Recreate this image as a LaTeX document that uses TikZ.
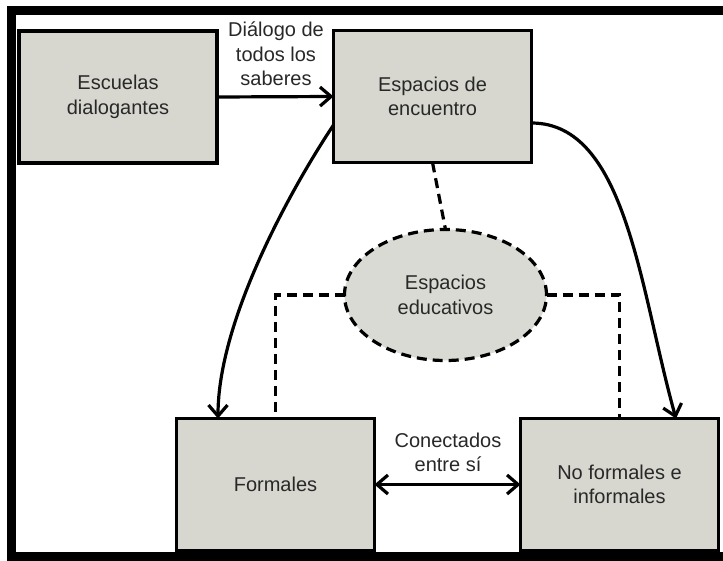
\documentclass[tikz,border=0pt]{standalone}
\usepackage{fontspec}
\setmainfont{Liberation Sans}
\usetikzlibrary{arrows.meta,shapes.geometric}
\definecolor{boxfill}{RGB}{215,215,208}
\definecolor{ellfill}{RGB}{218,218,212}
\definecolor{txt}{RGB}{40,40,40}
\begin{document}
\begin{tikzpicture}[x=1pt,y=-1pt,
  box/.style={draw=black, line width=3.2pt, fill=boxfill, minimum width=198pt, minimum height=132pt,
    inner sep=0pt, outer sep=0pt, align=center, font=\fontsize{20}{24.5}\selectfont, text=txt},
  ellbox/.style={ellipse, draw=black, line width=3.2pt, dash pattern=on 10pt off 6pt, fill=ellfill,
    minimum width=202pt, minimum height=131pt, inner sep=0pt, outer sep=0pt, align=center,
    font=\fontsize{20}{24.5}\selectfont, text=txt},
  lbl/.style={align=center, inner sep=0pt, font=\fontsize{20}{24.5}\selectfont, text=txt},
  arr/.style={line width=3.2pt, -{Straight Barb[length=11pt,width=19pt]}},
  arrb/.style={line width=3.2pt, {Straight Barb[length=11pt,width=19pt]}-{Straight Barb[length=11pt,width=19pt]}},
  dsh/.style={line width=3.2pt, dash pattern=on 10pt off 6pt}
]
\useasboundingbox[fill=white] (0,0) rectangle (723,561);
% frame
\draw[line width=9pt, line join=miter] (723,10.5) -- (11,10.5) -- (11,556.5) -- (723,556.5);
% nodes
\node[box] (esc) at (118,97) {Escuelas\\dialogantes};
\node[box] (enc) at (432.5,96.5) {Espacios de\\encuentro};
\node[box] (form) at (275.5,484.5) {Formales};
\node[box] (nof) at (619.5,484.5) {No formales e\\informales};
\node[ellbox] (ell) at (445.5,295) {Espacios\\educativos};
% labels
\node[lbl, anchor=base] (dlg) at (276,86) {Diálogo de\\todos los\\saberes};
\node[lbl, anchor=base] (con) at (448,471.7) {Conectados\\entre sí};
% connectors
\draw[arr] (esc.east) -- (enc.west);
\draw[arrb] (form.east) -- (nof.west);
\draw[arr] ([yshift=-28.5pt]enc.west) .. controls +(-40,60) and +(0,-100) .. ([xshift=-57.5pt]form.north);
\draw[arr] ([yshift=-26.5pt]enc.east) .. controls +(95,0) and +(-36,-128) .. ([xshift=56.5pt]nof.north);
\draw[dsh] (enc.south) -- (ell.north);
\draw[dsh] (ell.west) -| (form.north);
\draw[dsh] (ell.east) -| (nof.north);
% frame bottom drawn over the boxes
\draw[line width=9pt] (11,556.5) -- (723,556.5);
\end{tikzpicture}
\end{document}
